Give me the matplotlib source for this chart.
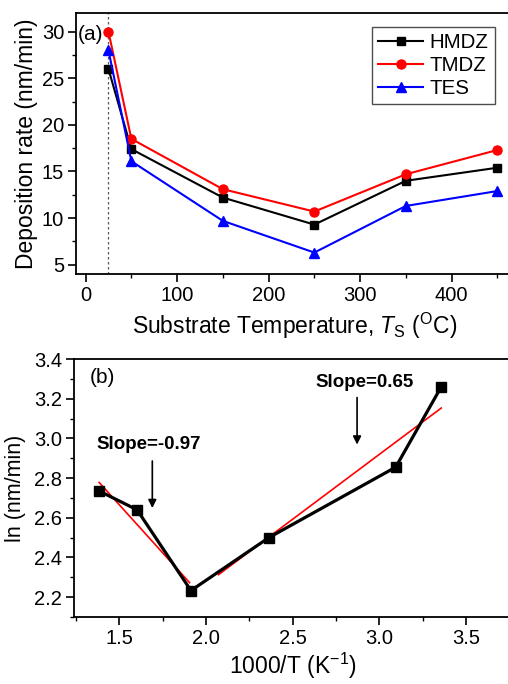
import matplotlib
matplotlib.use("Agg")
import matplotlib.pyplot as plt
from matplotlib.ticker import MultipleLocator

plt.rcParams['font.family'] = ['Liberation Sans', 'DejaVu Sans']
plt.rcParams['mathtext.fontset'] = 'custom'
plt.rcParams['mathtext.rm'] = 'Liberation Sans'
plt.rcParams['mathtext.it'] = 'Liberation Sans:italic'
plt.rcParams['mathtext.bf'] = 'Liberation Sans:bold'

# (a) deposition rate vs substrate temperature
temp = [25, 50, 150, 250, 350, 450]
hmdz = [26.0, 17.4, 12.2, 9.3, 14.0, 15.4]
tmdz = [30.0, 18.5, 13.1, 10.7, 14.7, 17.3]
tes = [28.0, 16.1, 9.7, 6.3, 11.3, 12.9]

# (b) Arrhenius plot
inv_t = [1.383, 1.602, 1.913, 2.363, 3.095, 3.358]
ln_rate = [2.735, 2.640, 2.233, 2.500, 2.855, 3.260]
fit1_x = [1.383, 1.905]
fit1_y = [2.778, 2.273]
fit2_x = [2.072, 3.358]
fit2_y = [2.313, 3.153]

fig = plt.figure(figsize=(5.08, 6.84), dpi=100)
ax1 = fig.add_axes([0.1496, 0.5994, 0.86, 0.3816])
ax2 = fig.add_axes([0.1457, 0.098, 0.86, 0.3771])

def style(ax):
    for s in ax.spines.values():
        s.set_linewidth(1.3)
    ax.tick_params(which='major', direction='out', length=5.5, width=1.2, labelsize=14.5, pad=3)
    ax.tick_params(which='minor', direction='out', length=3, width=1.0)

# 上のパネル
ax1.axvline(25, color='0.35', linestyle=(0, (2, 2)), linewidth=0.9, zorder=1)
ax1.plot(temp, hmdz, color='black', marker='s', markersize=6, linewidth=1.5, label='HMDZ')
ax1.plot(temp, tmdz, color='red', marker='o', markersize=6.5, linewidth=1.5, label='TMDZ')
ax1.plot(temp, tes, color='blue', marker='^', markersize=7, linewidth=1.5, label='TES')
ax1.set_xlim(-10.5, 467)
ax1.set_ylim(4, 32)
ax1.xaxis.set_major_locator(MultipleLocator(100))
ax1.xaxis.set_minor_locator(MultipleLocator(50))
ax1.yaxis.set_major_locator(MultipleLocator(5))
ax1.yaxis.set_minor_locator(MultipleLocator(2.5))
style(ax1)
ax1.set_xlabel('Substrate Temperature, $T_\\mathrm{S}$ ($^\\mathrm{O}$C)', fontsize=16.5, labelpad=4)
ax1.set_ylabel('Deposition rate (nm/min)', fontsize=16.5, labelpad=3)
ax1.text(0.004, 0.955, '(a)', transform=ax1.transAxes, fontsize=15, va='top')
leg = ax1.legend(loc='upper right', bbox_to_anchor=(0.958, 0.948), fontsize=14.8,
                 fancybox=False, edgecolor='0.3', framealpha=1, handlelength=2.2,
                 borderpad=0.3, labelspacing=0.2, handletextpad=0.3, borderaxespad=0)
leg.get_frame().set_linewidth(1.0)

# 下のパネル
ax2.plot(fit1_x, fit1_y, color='red', linewidth=1.2, zorder=2)
ax2.plot(fit2_x, fit2_y, color='red', linewidth=1.2, zorder=2)
ax2.plot(inv_t, ln_rate, color='black', marker='s', markersize=7, linewidth=2.3, zorder=3)
ax2.set_xlim(1.238, 3.76)
ax2.set_ylim(2.1, 3.4)
ax2.xaxis.set_major_locator(MultipleLocator(0.5))
ax2.xaxis.set_minor_locator(MultipleLocator(0.25))
ax2.yaxis.set_major_locator(MultipleLocator(0.2))
ax2.yaxis.set_minor_locator(MultipleLocator(0.1))
style(ax2)
ax2.set_xlabel('1000/T (K$^{-1}$)', fontsize=16.5, labelpad=2)
ax2.set_ylabel('ln (nm/min)', fontsize=15.5, labelpad=6)
ax2.text(0.035, 0.965, '(b)', transform=ax2.transAxes, fontsize=15, va='top')

ax2.text(1.37, 2.97, 'Slope=-0.97', fontsize=13.5, fontweight='bold', va='center')
ax2.annotate('', xy=(1.69, 2.635), xytext=(1.69, 2.90),
             arrowprops=dict(arrowstyle='-|>', color='black', lw=1.2, mutation_scale=12))
ax2.text(2.63, 3.28, 'Slope=0.65', fontsize=13.5, fontweight='bold', va='center')
ax2.annotate('', xy=(2.872, 2.955), xytext=(2.872, 3.22),
             arrowprops=dict(arrowstyle='-|>', color='black', lw=1.2, mutation_scale=12))

fig.savefig('out.png', dpi=100)
